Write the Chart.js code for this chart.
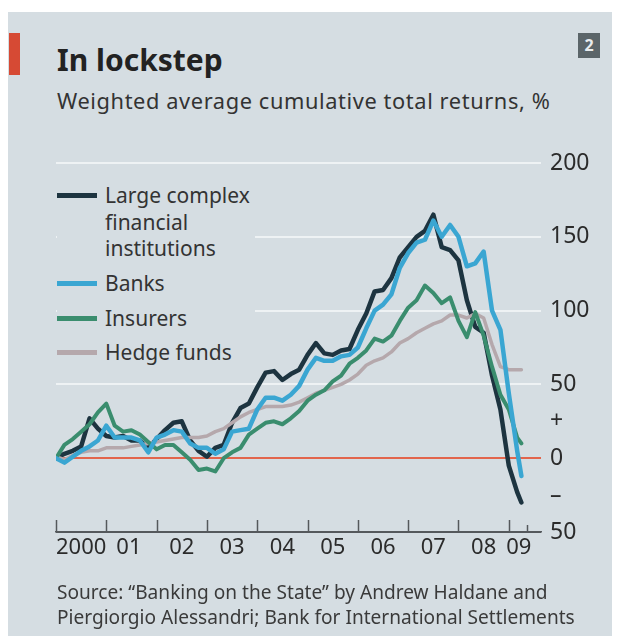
<!DOCTYPE html>
<html>
<head>
  <script src="https://cdn.jsdelivr.net/npm/chart.js"></script>
  <style>
    body {
      margin: 0px;
      background: #ffffff;
      font-family: "Noto Sans", sans-serif;
      color: #2b2b2b;
    }
    #panel {
      position: absolute;
      left: 8px; top: 12px;
      width: 604px; height: 624px;
      background: #d5dde2;
    }
    #redbar {
      position: absolute;
      left: 9px; top: 33px;
      width: 11px; height: 42px;
      background: #d64a34;
    }
    #num {
      position: absolute;
      left: 578px; top: 33px;
      width: 22px; height: 25px;
      background: #5b6569;
      color: #e8ecee;
      font-weight: bold;
      font-size: 16px;
      line-height: 25px;
      text-align: center;
    }
    #title {
      position: absolute;
      left: 57px; top: 42px;
      font-size: 30px;
      font-weight: bold;
      line-height: 36px;
      color: #222;
    }
    #subtitle {
      position: absolute;
      left: 57px; top: 87px;
      font-size: 21.8px;
      letter-spacing: 0.6px;
      line-height: 28px;
      color: #333;
    }
    #source {
      position: absolute;
      left: 57px; top: 580px;
      font-size: 19.1px;
      line-height: 25px;
      color: #3a3a3a;
    }
    canvas {
      position: absolute;
      left: 0px; top: 0px;
    }
    #legend {
      position: absolute;
      left: 57px; top: 178px;
      width: 198px; height: 192px;
      background: #d5dde2;
      font-size: 21px;
      line-height: 26.5px;
      color: #333;
    }
    .item { position: absolute; left: 0px; }
    .sw { position: absolute; left: 0px; top: 11px; width: 40px; height: 5px; }
    .txt { position: absolute; left: 48px; top: 0px; white-space: nowrap; }
  </style>
</head>
<body>
  <div id="panel"></div>
  <div id="redbar"></div>
  <div id="num">2</div>
  <div id="title">In lockstep</div>
  <div id="subtitle">Weighted average cumulative total returns, %</div>

  <canvas id="lineChart" width="624" height="644"></canvas>

  <div id="legend">
    <div class="item" style="top:4px"><span class="sw" style="background:#1d3440"></span><span class="txt">Large complex<br>financial<br>institutions</span></div>
    <div class="item" style="top:92px"><span class="sw" style="background:#3aa6d2"></span><span class="txt">Banks</span></div>
    <div class="item" style="top:127px"><span class="sw" style="background:#3a8d6e"></span><span class="txt">Insurers</span></div>
    <div class="item" style="top:161px"><span class="sw" style="background:#b5a8ac"></span><span class="txt">Hedge funds</span></div>
  </div>

  <div id="source">Source: &ldquo;Banking on the State&rdquo; by Andrew Haldane and<br>Piergiorgio Alessandri; Bank for International Settlements</div>

  <script>
    // Observation dates (every second month, last one April 2009)
    var months = [
      '2000-01', '2000-03', '2000-05', '2000-07', '2000-09', '2000-11',
      '2001-01', '2001-03', '2001-05', '2001-07', '2001-09', '2001-11',
      '2002-01', '2002-03', '2002-05', '2002-07', '2002-09', '2002-11',
      '2003-01', '2003-03', '2003-05', '2003-07', '2003-09', '2003-11',
      '2004-01', '2004-03', '2004-05', '2004-07', '2004-09', '2004-11',
      '2005-01', '2005-03', '2005-05', '2005-07', '2005-09', '2005-11',
      '2006-01', '2006-03', '2006-05', '2006-07', '2006-09', '2006-11',
      '2007-01', '2007-03', '2007-05', '2007-07', '2007-09', '2007-11',
      '2008-01', '2008-03', '2008-05', '2008-07', '2008-09', '2008-11',
      '2009-01', '2009-03', '2009-04'
    ];

    // Cumulative total returns, %
    var lcfi = [0, 3, 5, 8, 27, 20, 15, 14, 15, 12, 12, 7,
      13, 19, 24, 25, 12, 5, 1, 7, 9, 24, 34, 37,
      48, 58, 59, 53, 57, 60, 70, 78, 71, 70, 73, 74,
      87, 98, 113, 114, 122, 136, 143, 150, 154, 165, 143, 141,
      134, 107, 89, 85, 56, 33, -5, -23, -30];
    var banks = [0, -3, 1, 5, 8, 12, 22, 14, 14, 14, 12, 4,
      14, 16, 19, 18, 10, 7, 7, 3, 6, 18, 19, 20,
      33, 41, 41, 39, 43, 49, 60, 68, 66, 66, 69, 70,
      75, 88, 100, 104, 111, 129, 139, 146, 148, 161, 150, 158,
      150, 130, 132, 140, 100, 87, 44, 5, -12];
    var insurers = [0, 9, 13, 18, 23, 31, 37, 22, 18, 19, 16, 11,
      6, 9, 9, 4, -1, -8, -7, -9, 0, 4, 7, 16,
      20, 24, 25, 23, 27, 32, 39, 43, 46, 52, 56, 64,
      68, 73, 81, 79, 83, 93, 102, 107, 117, 112, 105, 109,
      93, 82, 99, 83, 62, 43, 33, 14, 10];
    var hedge = [1, -1, 2, 4, 5, 5, 7, 7, 7, 8, 9, 10,
      11, 12, 13, 14, 14, 14, 15, 18, 20, 24, 28, 31,
      33, 35, 35, 35, 36, 38, 41, 44, 46, 48, 50, 53,
      57, 63, 66, 68, 72, 78, 81, 85, 88, 91, 93, 97,
      97, 95, 98, 95, 77, 62, 60, 60, 60];

    // Axis labels
    var yearLabels = ['2000', '01', '02', '03', '04', '05', '06', '07', '08', '09'];
    var yearLabelPos = [2000.5, 2001.45, 2002.5, 2003.5, 2004.5, 2005.5, 2006.5, 2007.5, 2008.5, 2009.2];
    var yearTicks = [2000, 2001, 2002, 2003, 2004, 2005, 2006, 2007, 2008, 2009];
    var yTicks = [-50, -25, 0, 25, 50, 100, 150, 200];

    function toYear(m) {
      var parts = m.split('-');
      return Number(parts[0]) + (Number(parts[1]) - 1) / 12;
    }

    function points(values) {
      return values.map(function(v, i) {
        return { x: toYear(months[i]), y: v };
      });
    }

    // little upward tick marks on the time axis
    var tickMarks = {
      id: 'tickMarks',
      afterDraw: function(chart) {
        var ctx = chart.ctx;
        var xs = chart.scales.x;
        var bottom = chart.chartArea.bottom;
        ctx.save();
        ctx.strokeStyle = '#55595c';
        ctx.lineWidth = 1.5;
        yearTicks.forEach(function(t) {
          var px = Math.round(xs.getPixelForValue(t)) + 0.5;
          ctx.beginPath();
          ctx.moveTo(px, bottom);
          ctx.lineTo(px, bottom - 12);
          ctx.stroke();
        });
        // short tick where the data stops
        var pe = Math.round(xs.getPixelForValue(2009.36)) + 0.5;
        ctx.beginPath();
        ctx.moveTo(pe, bottom);
        ctx.lineTo(pe, bottom - 7);
        ctx.stroke();
        ctx.restore();
      }
    };

    var data = {
      datasets: [
        { label: 'Banks', data: points(banks), borderColor: '#3aa6d2', borderWidth: 4.5 },
        { label: 'Insurers', data: points(insurers), borderColor: '#3a8d6e', borderWidth: 4 },
        { label: 'Hedge funds', data: points(hedge), borderColor: '#b5a8ac', borderWidth: 3.5 },
        { label: 'Large complex financial institutions', data: points(lcfi), borderColor: '#1d3440', borderWidth: 4.5 }
      ]
    };

    var config = {
      type: 'line',
      data: data,
      options: {
        responsive: false,
        animation: false,
        layout: { padding: { left: 56, top: 163, right: 0, bottom: 0 } },
        elements: {
          point: { radius: 0 },
          line: { tension: 0, fill: false, borderJoinStyle: 'round', borderCapStyle: 'round' }
        },
        plugins: {
          legend: { display: false },
          tooltip: { enabled: false }
        },
        scales: {
          x: {
            type: 'linear',
            min: 2000,
            max: 2009.64,
            afterBuildTicks: function(axis) {
              axis.ticks = yearLabelPos.map(function(v) { return { value: v }; });
            },
            afterFit: function(axis) { axis.height = 112; },
            grid: { display: false, drawTicks: false },
            border: { display: true, color: '#55595c', width: 1.5 },
            ticks: {
              autoSkip: false,
              maxRotation: 0,
              padding: 3,
              color: '#2b2b2b',
              font: { family: 'Noto Sans', size: 22 },
              callback: function(value, index) { return yearLabels[index]; }
            }
          },
          y: {
            position: 'right',
            min: -50,
            max: 200,
            afterBuildTicks: function(axis) {
              axis.ticks = yTicks.map(function(v) { return { value: v }; });
            },
            afterFit: function(axis) { axis.width = 83; },
            border: { display: false },
            grid: {
              drawTicks: false,
              lineWidth: 2,
              color: function(c) {
                var v = c.tick ? c.tick.value : null;
                if (v === 0) return '#e2654c';
                if (v === 25 || v === -25) return 'rgba(0,0,0,0)';
                if (v === -50) return '#55595c';
                return '#eef2f4';
              }
            },
            ticks: {
              padding: 9,
              color: '#2b2b2b',
              font: { family: 'Noto Sans', size: 23 },
              callback: function(value) {
                if (value === 25) return '+';
                if (value === -25) return '\u2013';
                return String(Math.abs(value));
              }
            }
          }
        }
      },
      plugins: [tickMarks]
    };

    var ctx = document.getElementById('lineChart').getContext('2d');
    new Chart(ctx, config);
  </script>
</body>
</html>
